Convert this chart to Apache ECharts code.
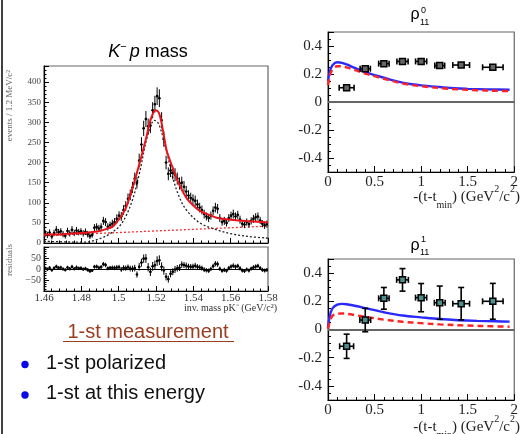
<!DOCTYPE html>
<html>
<head>
<meta charset="utf-8">
<script src="https://cdn.jsdelivr.net/npm/echarts@6/dist/echarts.min.js"></script>
<style>
  html, body { margin: 0; padding: 0; background: #fff; }
  #c { width: 521px; height: 434px; }
</style>
</head>
<body>
<div id="c"></div>
<script>
// ---- K- p invariant mass histogram (1.2 MeV bins from 1.46 GeV) ----
const binStart = 1.46;
const binWidth = 0.0012;

const counts = [
  24, 20, 26, 16, 25, 33, 27, 29, 22, 18, 30, 24, 33, 25, 31, 27, 29, 24, 28, 22,
  17, 20, 38, 40, 36, 40, 55, 52, 40, 44, 48, 52, 60, 68, 66, 82, 92, 110, 120, 138,
  160, 150, 205, 245, 285, 308, 290, 292, 330, 345, 365, 360, 305, 258, 200, 172, 180, 174, 170, 160,
  148, 150, 140, 128, 118, 112, 108, 105, 96, 88, 82, 72, 66, 62, 68, 80, 88, 85, 62, 52,
  55, 50, 62, 68, 72, 66, 70, 58, 48, 46, 52, 47, 55, 60, 64, 66, 56, 48, 44, 47
];

const countErr = [
  8, 8, 8, 7, 8, 9, 8, 8, 8, 7, 8, 8, 9, 8, 9, 8, 8, 8, 8, 8,
  7, 7, 9, 9, 9, 9, 10, 10, 9, 9, 10, 10, 11, 11, 11, 12, 12, 13, 13, 14,
  15, 14, 17, 18, 19, 20, 19, 19, 20, 21, 22, 22, 20, 19, 17, 16, 16, 16, 16, 15,
  15, 15, 14, 14, 13, 13, 13, 13, 12, 12, 11, 11, 10, 10, 10, 11, 12, 12, 10, 9,
  10, 9, 10, 10, 11, 10, 10, 10, 9, 9, 9, 9, 9, 10, 10, 10, 9, 9, 9, 9
];

const residuals = [
  3, -1, 5, -5, 4, 11, 5, 7, 0, -4, 7, 1, 10, 1, 7, 3, 4, -1, 2, -4,
  -10, -7, 10, 11, 6, 9, 22, 18, 3, 5, 6, 5, 7, 8, -2, 5, 4, 8, 2, 1,
  4, -25, 10, 29, 47, 48, 8, -13, 12, 17, 36, 40, 10, -7, -35, -46, -22, -12, -2, 3,
  6, 20, 18, 15, 11, 10, 11, 15, 10, 7, 4, -3, -6, -8, 0, 13, 24, 22, 1, -8,
  -4, -8, 4, 11, 15, 10, 14, 3, -7, -9, -2, -7, 2, 7, 11, 14, 4, -4, -7, -4
];

// fit curves: total (red solid), signal (black dotted), background (red dotted)
const fitCurve = [
  [1.46, 21], [1.47, 22], [1.48, 25], [1.485, 27], [1.49, 30], [1.4935, 35], [1.497, 42],
  [1.5005, 61], [1.5041, 90], [1.5076, 140], [1.5112, 198], [1.5148, 262], [1.517, 305],
  [1.5198, 330], [1.5215, 324], [1.523, 298], [1.5256, 232], [1.5275, 205], [1.5291, 185],
  [1.532, 150], [1.5363, 112], [1.54, 93], [1.5435, 80], [1.55, 67], [1.5524, 63],
  [1.56, 58], [1.57, 54], [1.58, 51]
];
const signalCurve = [
  [1.46, 4], [1.47, 3], [1.48, 2], [1.485, 4], [1.49, 11], [1.495, 22], [1.5005, 42],
  [1.504, 68], [1.5076, 110], [1.5112, 175], [1.5148, 255], [1.5175, 295], [1.519, 305],
  [1.5205, 302], [1.522, 290], [1.5256, 230], [1.529, 162], [1.5327, 112], [1.5363, 82],
  [1.5435, 50], [1.5524, 33], [1.5613, 22], [1.57, 16], [1.58, 12]
];
const bgCurve = [[1.46, 18], [1.52, 30], [1.58, 42]];

// ---- spin density matrix elements vs -(t - tmin) ----
const tValues = [0.2, 0.4, 0.6, 0.8, 1.0, 1.2, 1.43, 1.77];
const tErr0 = [0.08, 0.055, 0.056, 0.06, 0.06, 0.053, 0.09, 0.11];
const rho0Values = [0.102, 0.238, 0.274, 0.29, 0.29, 0.26, 0.264, 0.248];
const rho0Err = [0.012, 0.015, 0.012, 0.012, 0.012, 0.012, 0.013, 0.015];
const tErr1 = [0.075, 0.058, 0.056, 0.063, 0.06, 0.058, 0.09, 0.11];
const rho1Values = [-0.119, 0.067, 0.221, 0.352, 0.226, 0.19, 0.183, 0.2];
const rho1Err = [0.086, 0.083, 0.077, 0.08, 0.1, 0.118, 0.115, 0.127];

const rho0ModelA = [
  [0, 0.15], [0.02, 0.22], [0.05, 0.265], [0.1, 0.284], [0.15, 0.28], [0.2, 0.268],
  [0.3, 0.24], [0.4, 0.214], [0.5, 0.192], [0.6, 0.174], [0.7, 0.154], [0.8, 0.138],
  [0.9, 0.127], [1.0, 0.119], [1.2, 0.107], [1.36, 0.098], [1.5, 0.094], [1.71, 0.09], [1.95, 0.088]
];
const rho0ModelB = [
  [0, 0.12], [0.02, 0.19], [0.05, 0.235], [0.1, 0.255], [0.15, 0.255], [0.2, 0.247],
  [0.3, 0.226], [0.4, 0.203], [0.5, 0.185], [0.6, 0.166], [0.8, 0.132], [1.0, 0.113],
  [1.2, 0.1], [1.4, 0.09], [1.6, 0.084], [1.8, 0.08], [1.95, 0.078]
];
const rho1ModelA = [
  [0, 0.01], [0.02, 0.1], [0.05, 0.152], [0.1, 0.176], [0.15, 0.182], [0.2, 0.179],
  [0.3, 0.167], [0.4, 0.152], [0.5, 0.137], [0.6, 0.122], [0.8, 0.099], [1.0, 0.086],
  [1.2, 0.074], [1.4, 0.066], [1.6, 0.061], [1.8, 0.058], [1.95, 0.056]
];
const rho1ModelB = [
  [0, 0.005], [0.02, 0.06], [0.05, 0.098], [0.1, 0.112], [0.15, 0.114], [0.2, 0.111],
  [0.3, 0.101], [0.4, 0.09], [0.6, 0.07], [0.8, 0.055], [1.0, 0.045], [1.2, 0.036],
  [1.5, 0.028], [1.75, 0.023], [1.95, 0.02]
];

// ---- helpers ----
const SERIF = 'Liberation Serif';
const SANS = 'Liberation Sans';

const binCenters = counts.map((_, i) => binStart + binWidth * (i + 0.5));
const histData = counts.map((v, i) => [binCenters[i], v, countErr[i]]);
const residData = residuals.map((v, i) => [binCenters[i], v, countErr[i]]);

function histPoint(params, api) {
  const x = api.value(0), y = api.value(1), e = api.value(2);
  const c = api.coord([x, y]);
  const t = api.coord([x, y + e]);
  const b = api.coord([x, y - e]);
  const l = api.coord([x - binWidth / 2, y]);
  const r = api.coord([x + binWidth / 2, y]);
  const st = { stroke: '#000', lineWidth: 1 };
  return {
    type: 'group',
    children: [
      { type: 'line', shape: { x1: c[0], y1: t[1], x2: c[0], y2: b[1] }, style: st },
      { type: 'line', shape: { x1: l[0], y1: c[1], x2: r[0], y2: c[1] }, style: st },
      { type: 'circle', shape: { cx: c[0], cy: c[1], r: 1.3 }, style: { fill: '#000' } }
    ]
  };
}

function rhoPoint(fill) {
  return function (params, api) {
    const x = api.value(0), y = api.value(1), ex = api.value(2), ey = api.value(3);
    const c = api.coord([x, y]);
    const xl = api.coord([x - ex, y]);
    const xr = api.coord([x + ex, y]);
    const yt = api.coord([x, y + ey]);
    const yb = api.coord([x, y - ey]);
    const cap = 3;
    const st = { stroke: '#000', lineWidth: 1.6 };
    const kids = [
      { type: 'line', shape: { x1: xl[0], y1: c[1], x2: xr[0], y2: c[1] }, style: st },
      { type: 'line', shape: { x1: xl[0], y1: c[1] - cap, x2: xl[0], y2: c[1] + cap }, style: st },
      { type: 'line', shape: { x1: xr[0], y1: c[1] - cap, x2: xr[0], y2: c[1] + cap }, style: st },
      { type: 'line', shape: { x1: c[0], y1: yt[1], x2: c[0], y2: yb[1] }, style: st },
      { type: 'line', shape: { x1: c[0] - cap, y1: yt[1], x2: c[0] + cap, y2: yt[1] }, style: st },
      { type: 'line', shape: { x1: c[0] - cap, y1: yb[1], x2: c[0] + cap, y2: yb[1] }, style: st },
      { type: 'rect', shape: { x: c[0] - 3, y: c[1] - 3, width: 6, height: 6 },
        style: { fill: fill, stroke: '#000', lineWidth: 1.5 } }
    ];
    return { type: 'group', children: kids };
  };
}

function massXAxis(grid, showLabels) {
  return {
    type: 'value', gridIndex: grid, min: 1.46, max: 1.58, interval: 0.02,
    axisLine: { show: true, onZero: false, lineStyle: { color: '#000', width: 1.2 } },
    axisTick: { show: true, inside: true, length: 5, lineStyle: { color: '#000' } },
    minorTick: { show: true, splitNumber: 5, length: 2.5, lineStyle: { color: '#000' } },
    splitLine: { show: false },
    axisLabel: {
      show: showLabels, margin: 2, fontFamily: SERIF, fontSize: 11, color: '#333',
      formatter: v => String(+v.toFixed(2))
    }
  };
}

function rhoXAxis(grid) {
  return {
    type: 'value', gridIndex: grid, min: 0, max: 2, interval: 0.5,
    axisLine: { show: true, onZero: false, lineStyle: { color: '#000', width: 1.2 } },
    axisTick: { show: true, inside: true, length: 6, lineStyle: { color: '#000' } },
    minorTick: { show: true, splitNumber: 5, length: 3, lineStyle: { color: '#000' } },
    splitLine: { show: false },
    axisLabel: { margin: 3, fontFamily: SERIF, fontSize: 15, color: '#222',
      formatter: v => String(+v.toFixed(1)) }
  };
}

function rhoYAxis(grid) {
  return {
    type: 'value', gridIndex: grid, min: -0.5, max: 0.5, splitNumber: 5,
    axisLine: { show: true, onZero: false, lineStyle: { color: '#000', width: 1.2 } },
    axisTick: { show: true, inside: true, length: 6, lineStyle: { color: '#000' } },
    minorTick: { show: true, splitNumber: 4, length: 3, lineStyle: { color: '#000' } },
    splitLine: { show: false },
    axisLabel: {
      margin: 6, fontFamily: SERIF, fontSize: 15, color: '#222',
      formatter: v => (Math.abs(v) > 0.45 ? '' : String(+v.toFixed(1)))
    }
  };
}

const zeroLine = (color, width) => ({
  silent: true, symbol: 'none', label: { show: false },
  lineStyle: { color: color, width: width, type: 'solid' },
  data: [{ yAxis: 0 }]
});

const gridBox = { show: true, borderColor: '#666', borderWidth: 1.2, backgroundColor: 'transparent' };

const tTitleRich = {
  b: { fontFamily: SERIF, fontSize: 15, fill: '#222', lineHeight: 26 },
  sub: { fontFamily: SERIF, fontSize: 10, fill: '#222', lineHeight: 10, verticalAlign: 'bottom' },
  sup: { fontFamily: SERIF, fontSize: 10, fill: '#222', lineHeight: 18, verticalAlign: 'top' }
};
const tTitle = '{b|-(t-t}{sub|min}{b|) (GeV}{sup|2}{b|/c}{sup|2}{b|)}';

const option = {
  animation: false,
  backgroundColor: '#fff',
  grid: [
    Object.assign({ left: 44, top: 66, width: 224, height: 177 }, gridBox),
    Object.assign({ left: 44, top: 247, width: 224, height: 44 }, gridBox),
    Object.assign({ left: 328, top: 32, width: 190, height: 140 }, gridBox),
    Object.assign({ left: 328, top: 259, width: 190, height: 141 }, gridBox)
  ],
  xAxis: [massXAxis(0, false), massXAxis(1, true), rhoXAxis(2), rhoXAxis(3)],
  yAxis: [
    {
      type: 'value', gridIndex: 0, min: 0, max: 440, interval: 50,
      axisLine: { show: true, onZero: false, lineStyle: { color: '#000', width: 1.2 } },
      axisTick: { show: true, inside: true, length: 5, lineStyle: { color: '#000' } },
      minorTick: { show: true, splitNumber: 5, length: 2.5, lineStyle: { color: '#000' } },
      splitLine: { show: false },
      axisLabel: { margin: 3, fontFamily: SERIF, fontSize: 9, color: '#444',
        formatter: v => (v > 400 ? '' : String(v)) }
    },
    {
      type: 'value', gridIndex: 1, min: -100, max: 100, interval: 50,
      axisLine: { show: true, onZero: false, lineStyle: { color: '#000', width: 1.2 } },
      axisTick: { show: true, inside: true, length: 5, lineStyle: { color: '#000' } },
      minorTick: { show: true, splitNumber: 5, length: 2.5, lineStyle: { color: '#000' } },
      splitLine: { show: false },
      axisLabel: { margin: 3, fontFamily: SERIF, fontSize: 10, color: '#444',
        formatter: v => (Math.abs(v) >= 100 ? '' : (v < 0 ? '\u2212' + (-v) : String(v))) }
    },
    rhoYAxis(2),
    rhoYAxis(3)
  ],
  series: [
    // invariant mass: background, signal, data, total fit
    { type: 'line', xAxisIndex: 0, yAxisIndex: 0, data: bgCurve, symbol: 'none', z: 3,
      lineStyle: { color: '#f03030', width: 1.3, type: [2, 2] } },
    { type: 'line', xAxisIndex: 0, yAxisIndex: 0, data: signalCurve, symbol: 'none', z: 3,
      smooth: 0.35, lineStyle: { color: '#222', width: 1.3, type: [2, 2] } },
    { type: 'custom', xAxisIndex: 0, yAxisIndex: 0, data: histData, renderItem: histPoint, z: 4, clip: true },
    { type: 'line', xAxisIndex: 0, yAxisIndex: 0, data: fitCurve, symbol: 'none', z: 5,
      smooth: 0.35, lineStyle: { color: '#e8141b', width: 2 } },
    // residuals
    { type: 'custom', xAxisIndex: 1, yAxisIndex: 1, data: residData, renderItem: histPoint, z: 4, clip: true,
      markLine: zeroLine('#000', 1) },
    // rho^0_11
    { type: 'line', xAxisIndex: 2, yAxisIndex: 2, data: rho0ModelA, symbol: 'none', z: 3,
      smooth: 0.35, lineStyle: { color: '#2a2aff', width: 2.4 }, markLine: zeroLine('#666', 2) },
    { type: 'line', xAxisIndex: 2, yAxisIndex: 2, data: rho0ModelB, symbol: 'none', z: 3,
      smooth: 0.35, lineStyle: { color: '#ff2222', width: 2.4, type: [6, 4] } },
    { type: 'custom', xAxisIndex: 2, yAxisIndex: 2, z: 6, renderItem: rhoPoint('#666'),
      data: tValues.map((t, i) => [t, rho0Values[i], tErr0[i], rho0Err[i]]) },
    // rho^1_11
    { type: 'line', xAxisIndex: 3, yAxisIndex: 3, data: rho1ModelA, symbol: 'none', z: 3,
      smooth: 0.35, lineStyle: { color: '#2a2aff', width: 2.4 }, markLine: zeroLine('#666', 2) },
    { type: 'line', xAxisIndex: 3, yAxisIndex: 3, data: rho1ModelB, symbol: 'none', z: 3,
      smooth: 0.35, lineStyle: { color: '#ff2222', width: 2.4, type: [6, 4] } },
    { type: 'custom', xAxisIndex: 3, yAxisIndex: 3, z: 6, renderItem: rhoPoint('#4e8f8c'),
      data: tValues.map((t, i) => [t, rho1Values[i], tErr1[i], rho1Err[i]]) }
  ],
  graphic: [
    // slide edge
    { type: 'line', shape: { x1: 2, y1: 0, x2: 2, y2: 434 }, style: { stroke: '#000', lineWidth: 1.5 } },
    // mass plot title
    { type: 'text', x: 148, y: 52, style: {
        text: '{i|K}{s|\u2212 }{i|p} mass', textAlign: 'center', textVerticalAlign: 'middle',
        fontFamily: SANS, fontSize: 18, fill: '#000',
        rich: {
          i: { fontFamily: SANS, fontSize: 18, fontStyle: 'italic', fill: '#000', lineHeight: 22 },
          s: { fontFamily: SANS, fontSize: 11, fill: '#000', verticalAlign: 'top', lineHeight: 12 }
        } } },
    // axis titles of the mass plot
    { type: 'text', x: 10, y: 70, rotation: Math.PI / 2, style: {
        text: 'events / 1.2 MeV/c\u00b2', textAlign: 'right', textVerticalAlign: 'middle',
        fontFamily: SERIF, fontSize: 9, fill: '#666' } },
    { type: 'text', x: 10, y: 260, rotation: Math.PI / 2, style: {
        text: 'residuals', textAlign: 'center', textVerticalAlign: 'middle',
        fontFamily: SERIF, fontSize: 9, fill: '#666' } },
    { type: 'text', x: 277, y: 308, style: {
        text: 'inv. mass pK\u207b (GeV/c\u00b2)', textAlign: 'right', textVerticalAlign: 'middle',
        fontFamily: SERIF, fontSize: 10, fill: '#333' } },
    // rho titles
    { type: 'text', x: 415, y: 15, style: { text: '\u03c1', textAlign: 'center', textVerticalAlign: 'middle',
        fontFamily: SANS, fontSize: 16, fill: '#000' } },
    { type: 'text', x: 421, y: 11, style: { text: '0', textAlign: 'left', textVerticalAlign: 'middle',
        fontFamily: SANS, fontSize: 9, fill: '#000' } },
    { type: 'text', x: 420, y: 23, style: { text: '11', textAlign: 'left', textVerticalAlign: 'middle',
        fontFamily: SANS, fontSize: 9, fill: '#000' } },
    { type: 'text', x: 415, y: 246, style: { text: '\u03c1', textAlign: 'center', textVerticalAlign: 'middle',
        fontFamily: SANS, fontSize: 16, fill: '#000' } },
    { type: 'text', x: 421, y: 240, style: { text: '1', textAlign: 'left', textVerticalAlign: 'middle',
        fontFamily: SANS, fontSize: 9, fill: '#000' } },
    { type: 'text', x: 420, y: 253, style: { text: '11', textAlign: 'left', textVerticalAlign: 'middle',
        fontFamily: SANS, fontSize: 9, fill: '#000' } },
    // t axis titles
    { type: 'text', x: 520, y: 197, style: {
        text: tTitle, textAlign: 'right', textVerticalAlign: 'middle', fill: '#222', rich: tTitleRich } },
    { type: 'text', x: 520, y: 427, style: {
        text: tTitle, textAlign: 'right', textVerticalAlign: 'middle', fill: '#222', rich: tTitleRich } },
    // notes
    { type: 'text', x: 148, y: 332, style: { text: '1-st measurement', textAlign: 'center',
        textVerticalAlign: 'middle', fontFamily: SANS, fontSize: 20, fill: '#9a3d1e' } },
    { type: 'line', shape: { x1: 63, y1: 341.5, x2: 234, y2: 341.5 }, style: { stroke: '#9a3d1e', lineWidth: 1.2 } },
    { type: 'circle', shape: { cx: 25, cy: 364.5, r: 3.7 }, style: { fill: '#0a0ae8' } },
    { type: 'circle', shape: { cx: 25, cy: 395, r: 3.7 }, style: { fill: '#0a0ae8' } },
    { type: 'text', x: 46, y: 363.5, style: { text: '1-st polarized', textAlign: 'left',
        textVerticalAlign: 'middle', fontFamily: SANS, fontSize: 20, fill: '#111' } },
    { type: 'text', x: 46, y: 393.5, style: { text: '1-st at this energy', textAlign: 'left',
        textVerticalAlign: 'middle', fontFamily: SANS, fontSize: 20, fill: '#111' } }
  ]
};

const chart = echarts.init(document.getElementById('c'), null, { renderer: 'canvas' });
chart.setOption(option);
</script>
</body>
</html>
